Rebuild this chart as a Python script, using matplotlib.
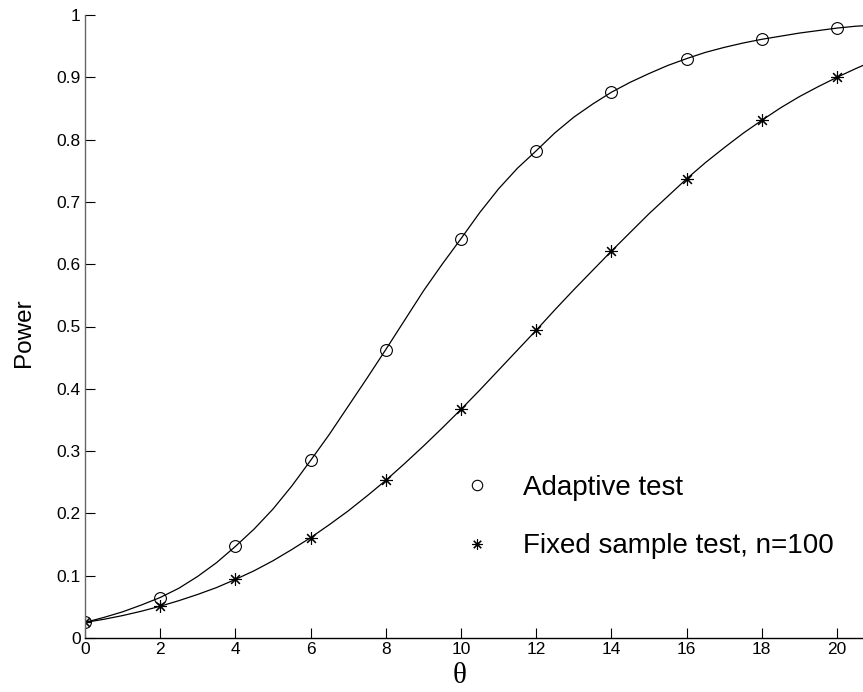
import matplotlib
matplotlib.use('Agg')
import matplotlib.pyplot as plt
from matplotlib.lines import Line2D

plt.rcParams['font.family'] = ['Liberation Sans', 'DejaVu Sans']

# marker values (theta = 0, 2, ..., 20)
theta_pts = [0, 2, 4, 6, 8, 10, 12, 14, 16, 18, 20]
adaptive_pts = [0.025, 0.065, 0.147, 0.285, 0.463, 0.641, 0.782, 0.876, 0.930, 0.961, 0.979]
fixed_pts = [0.025, 0.051, 0.094, 0.161, 0.253, 0.367, 0.494, 0.621, 0.737, 0.831, 0.900]

# curve values read every half unit
theta_line = [0, 0.5, 1, 1.5, 2, 2.5, 3, 3.5, 4, 4.5, 5, 5.5, 6, 6.5, 7, 7.5, 8, 8.5, 9, 9.5,
              10, 10.5, 11, 11.5, 12, 12.5, 13, 13.5, 14, 14.5, 15, 15.5, 16, 16.5, 17, 17.5,
              18, 18.5, 19, 19.5, 20, 20.5, 20.8]
adaptive_line = [0.025, 0.033, 0.042, 0.053, 0.065, 0.080, 0.099, 0.121, 0.147, 0.175,
                 0.207, 0.244, 0.285, 0.327, 0.372, 0.417, 0.463, 0.510, 0.557, 0.600,
                 0.641, 0.683, 0.721, 0.754, 0.782, 0.811, 0.836, 0.857, 0.876, 0.892,
                 0.906, 0.919, 0.930, 0.940, 0.948, 0.955, 0.961, 0.966, 0.971, 0.975,
                 0.979, 0.982, 0.983]
fixed_line = [0.025, 0.030, 0.036, 0.043, 0.051, 0.060, 0.070, 0.081, 0.094, 0.108,
              0.124, 0.142, 0.161, 0.182, 0.204, 0.228, 0.253, 0.280, 0.308, 0.337,
              0.367, 0.398, 0.430, 0.462, 0.494, 0.527, 0.559, 0.590, 0.621, 0.651,
              0.681, 0.709, 0.737, 0.763, 0.787, 0.810, 0.831, 0.851, 0.869, 0.885,
              0.900, 0.914, 0.922]

xticks = [0, 2, 4, 6, 8, 10, 12, 14, 16, 18, 20]
yticks = [0, 0.1, 0.2, 0.3, 0.4, 0.5, 0.6, 0.7, 0.8, 0.9, 1]
ytick_labels = ['0', '0.1', '0.2', '0.3', '0.4', '0.5', '0.6', '0.7', '0.8', '0.9', '1']

W, H = 863, 692
fig = plt.figure(figsize=(W / 100, H / 100), dpi=100)
ax = fig.add_axes([85 / W, 1 - 638 / H, 1 - 85 / W, (638 - 15) / H])

ax.plot(theta_line, adaptive_line, color='black', lw=0.9)
ax.plot(theta_line, fixed_line, color='black', lw=0.9)
ax.plot(theta_pts, adaptive_pts, ls='none', marker='o', ms=8.5, mfc='none', mec='black', mew=0.8)
ax.plot(theta_pts, fixed_pts, ls='none', marker=(8, 2, 0), ms=9, mec='black', mew=0.8)

ax.set_xlim(0, (W - 85) / 37.6)
ax.set_ylim(0, 1)
ax.set_xticks(xticks)
ax.set_yticks(yticks)
ax.set_yticklabels(ytick_labels)
ax.tick_params(direction='in', length=7, width=0.8, labelsize=12.5, pad=3)

for s in ['top', 'right']:
    ax.spines[s].set_visible(False)
ax.spines['left'].set_color('#666666')
ax.spines['bottom'].set_color('black')
ax.spines['left'].set_linewidth(1.0)
ax.spines['bottom'].set_linewidth(1.0)

ax.set_ylabel('Power', fontsize=17.5)
ax.yaxis.set_label_coords(-50 / (W - 85), 0.49)
ax.set_xlabel('θ', fontsize=21, family=['Liberation Serif', 'DejaVu Serif'])
ax.xaxis.set_label_coords((460 - 85) / (W - 85), -0.04)

handles = [
    Line2D([], [], ls='none', marker='o', ms=7.5, mfc='none', mec='black', mew=0.8),
    Line2D([], [], ls='none', marker=(8, 2, 0), ms=7.5, mec='black', mew=0.8),
]
ax.legend(handles, ['Adaptive test', 'Fixed sample test, n=100'],
          loc='upper left', bbox_to_anchor=(463 / W, 1 - 475 / H),
          bbox_transform=fig.transFigure, frameon=False, fontsize=20,
          handlelength=1.0, handletextpad=1.15, labelspacing=1.16,
          borderpad=0, borderaxespad=0)

fig.savefig('out.png', dpi=100)
